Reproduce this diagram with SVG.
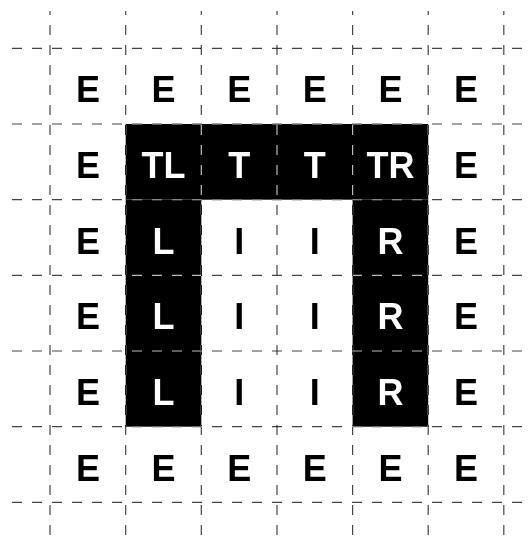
<svg xmlns="http://www.w3.org/2000/svg" width="531" height="540" viewBox="0 0 531 540">
<style>
.lbl{font-family:"Liberation Sans",Arial,sans-serif;font-weight:bold;font-size:36px;text-anchor:middle}
.dk{fill:#000}
.lt{fill:#fff}
.blk{fill:#000}
.g{stroke:#bbbbbb;stroke-width:1.2;stroke-dasharray:10 10;fill:none;mix-blend-mode:difference}
</style>
<rect x="0" y="0" width="531" height="540" fill="#fff"/>
<g id="cells-bg">
<rect class="blk" x="125.7" y="124" width="302.5" height="75.7"/>
<rect class="blk" x="125.7" y="199.7" width="75.6" height="227"/>
<rect class="blk" x="352.6" y="199.7" width="75.6" height="227"/>
</g>
<g id="grid">
<line class="g" x1="50" y1="11" x2="50" y2="540" stroke-dashoffset="6"/>
<line class="g" x1="125.7" y1="11" x2="125.7" y2="540" stroke-dashoffset="6"/>
<line class="g" x1="201.3" y1="11" x2="201.3" y2="540" stroke-dashoffset="6"/>
<line class="g" x1="277" y1="11" x2="277" y2="540" stroke-dashoffset="6"/>
<line class="g" x1="352.6" y1="11" x2="352.6" y2="540" stroke-dashoffset="6"/>
<line class="g" x1="428.2" y1="11" x2="428.2" y2="540" stroke-dashoffset="6"/>
<line class="g" x1="503.8" y1="11" x2="503.8" y2="540" stroke-dashoffset="6"/>
<line class="g" x1="12" y1="48.3" x2="531" y2="48.3"/>
<line class="g" x1="12" y1="124" x2="531" y2="124"/>
<line class="g" x1="12" y1="199.7" x2="531" y2="199.7"/>
<line class="g" x1="12" y1="275.3" x2="531" y2="275.3"/>
<line class="g" x1="12" y1="351" x2="531" y2="351"/>
<line class="g" x1="12" y1="426.7" x2="531" y2="426.7"/>
<line class="g" x1="12" y1="502.3" x2="531" y2="502.3"/>
</g>
<g id="r0">
<g id="c0-0"><text class="lbl dk" x="87.9" y="102.3">E</text></g>
<g id="c0-1"><text class="lbl dk" x="163.5" y="102.3">E</text></g>
<g id="c0-2"><text class="lbl dk" x="239.2" y="102.3">E</text></g>
<g id="c0-3"><text class="lbl dk" x="314.8" y="102.3">E</text></g>
<g id="c0-4"><text class="lbl dk" x="390.4" y="102.3">E</text></g>
<g id="c0-5"><text class="lbl dk" x="466" y="102.3">E</text></g>
</g>
<g id="r1">
<g id="c1-0"><text class="lbl dk" x="87.9" y="178">E</text></g>
<g id="c1-1"><text class="lbl lt" x="163.5" y="178">TL</text></g>
<g id="c1-2"><text class="lbl lt" x="239.2" y="178">T</text></g>
<g id="c1-3"><text class="lbl lt" x="314.8" y="178">T</text></g>
<g id="c1-4"><text class="lbl lt" x="390.4" y="178">TR</text></g>
<g id="c1-5"><text class="lbl dk" x="466" y="178">E</text></g>
</g>
<g id="r2">
<g id="c2-0"><text class="lbl dk" x="87.9" y="253.6">E</text></g>
<g id="c2-1"><text class="lbl lt" x="163.5" y="253.6">L</text></g>
<g id="c2-2"><text class="lbl dk" x="239.2" y="253.6">I</text></g>
<g id="c2-3"><text class="lbl dk" x="314.8" y="253.6">I</text></g>
<g id="c2-4"><text class="lbl lt" x="390.4" y="253.6">R</text></g>
<g id="c2-5"><text class="lbl dk" x="466" y="253.6">E</text></g>
</g>
<g id="r3">
<g id="c3-0"><text class="lbl dk" x="87.9" y="329.3">E</text></g>
<g id="c3-1"><text class="lbl lt" x="163.5" y="329.3">L</text></g>
<g id="c3-2"><text class="lbl dk" x="239.2" y="329.3">I</text></g>
<g id="c3-3"><text class="lbl dk" x="314.8" y="329.3">I</text></g>
<g id="c3-4"><text class="lbl lt" x="390.4" y="329.3">R</text></g>
<g id="c3-5"><text class="lbl dk" x="466" y="329.3">E</text></g>
</g>
<g id="r4">
<g id="c4-0"><text class="lbl dk" x="87.9" y="405">E</text></g>
<g id="c4-1"><text class="lbl lt" x="163.5" y="405">L</text></g>
<g id="c4-2"><text class="lbl dk" x="239.2" y="405">I</text></g>
<g id="c4-3"><text class="lbl dk" x="314.8" y="405">I</text></g>
<g id="c4-4"><text class="lbl lt" x="390.4" y="405">R</text></g>
<g id="c4-5"><text class="lbl dk" x="466" y="405">E</text></g>
</g>
<g id="r5">
<g id="c5-0"><text class="lbl dk" x="87.9" y="480.7">E</text></g>
<g id="c5-1"><text class="lbl dk" x="163.5" y="480.7">E</text></g>
<g id="c5-2"><text class="lbl dk" x="239.2" y="480.7">E</text></g>
<g id="c5-3"><text class="lbl dk" x="314.8" y="480.7">E</text></g>
<g id="c5-4"><text class="lbl dk" x="390.4" y="480.7">E</text></g>
<g id="c5-5"><text class="lbl dk" x="466" y="480.7">E</text></g>
</g>
</svg>
